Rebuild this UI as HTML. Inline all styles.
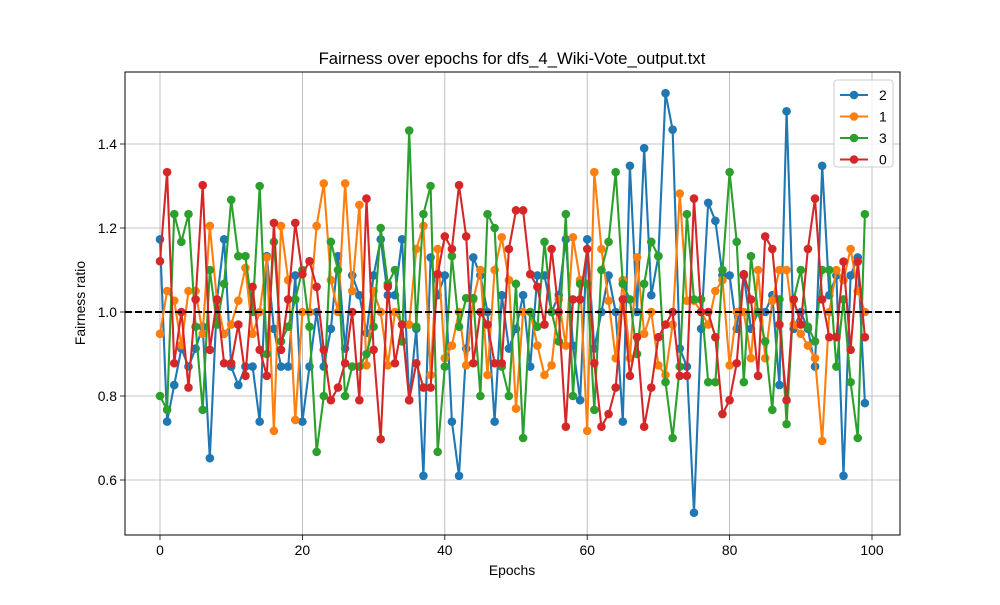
<!DOCTYPE html>
<html><head><meta charset="utf-8"><style>
body{margin:0;background:#fff;}
svg text{font-family:"Liberation Sans","DejaVu Sans",sans-serif;}
</style></head><body>
<svg id="chart" width="1000" height="600" xmlns="http://www.w3.org/2000/svg">
<rect width="1000" height="600" fill="#fff"/>
<g id="grid"></g>
<g id="marks"></g>
<rect x="125" y="72" width="775" height="463" fill="none" stroke="#000" stroke-width="1"/>
<g id="ticks"></g>
<text x="512" y="64" text-anchor="middle" font-size="16.7">Fairness over epochs for dfs_4_Wiki-Vote_output.txt</text>
<text x="512" y="575" text-anchor="middle" font-size="13.9">Epochs</text>
<text transform="translate(85,303) rotate(-90)" text-anchor="middle" font-size="13.9">Fairness ratio</text>
<g id="legend"></g>
</svg>
<script>
const s2 = [1.173,0.739,0.826,0.913,0.87,0.913,0.965,0.652,1.029,1.173,0.87,0.826,0.87,0.87,0.739,1.133,0.96,0.87,0.87,1.087,0.739,0.87,1.0,0.87,0.96,1.133,0.913,1.087,1.04,0.95,1.087,1.173,1.04,1.04,1.173,0.79,0.96,0.61,1.13,1.04,1.087,0.739,0.61,0.913,1.13,1.087,1.0,0.739,1.04,0.913,0.96,1.04,0.87,1.087,1.087,1.0,1.04,1.173,0.92,0.79,1.173,0.913,1.0,1.087,1.0,0.739,1.348,1.0,1.39,1.04,1.133,1.521,1.434,0.913,0.87,0.522,0.96,1.26,1.217,1.087,1.087,0.96,1.087,0.96,1.0,1.0,1.04,0.826,1.478,0.96,1.0,0.96,0.87,1.348,1.04,1.087,0.61,1.087,1.13,0.783];
const s1 = [0.948,1.05,1.027,0.921,1.05,1.05,0.948,1.205,1.027,0.948,0.97,1.027,1.105,0.948,1.0,1.13,0.717,1.205,1.076,0.743,1.0,1.0,1.205,1.306,1.076,1.0,1.306,1.05,1.255,0.873,1.05,1.0,0.873,1.0,0.97,0.97,1.15,1.205,0.85,1.15,0.89,0.92,1.0,0.873,1.03,1.1,0.85,1.1,1.178,1.076,0.77,1.0,1.0,0.92,0.85,0.873,1.03,0.92,1.178,1.076,0.717,1.333,1.15,1.027,0.89,1.076,0.89,1.13,0.948,1.0,0.873,0.85,0.97,1.282,1.027,1.027,1.0,0.97,1.05,1.076,0.873,1.0,1.0,0.89,1.1,0.89,1.027,1.1,1.1,0.97,0.948,0.92,0.89,0.693,1.0,1.1,1.076,1.15,1.05,1.0];
const s3 = [0.8,0.767,1.233,1.167,1.233,0.965,0.767,1.1,0.97,1.067,1.267,1.133,1.133,1.0,1.3,0.9,1.167,0.93,0.965,1.03,1.1,0.965,0.667,0.8,1.167,1.1,0.8,0.87,0.87,0.9,0.965,1.2,1.067,1.1,0.93,1.432,0.965,1.233,1.3,0.667,0.87,1.133,0.965,1.033,1.033,0.8,1.233,1.2,0.87,0.8,1.067,0.7,1.0,0.965,1.167,1.0,0.93,1.233,0.8,1.067,1.067,0.767,1.1,1.167,1.333,1.067,1.03,0.9,1.067,1.167,1.133,0.833,0.7,0.87,1.233,1.03,1.03,0.833,0.833,1.1,1.333,1.167,0.833,1.133,1.0,0.93,0.767,1.03,0.733,1.03,1.1,0.965,0.93,1.1,1.1,0.87,1.03,0.833,0.7,1.233];
const s0 = [1.121,1.333,0.878,1.0,0.82,1.03,1.302,0.91,1.03,0.878,0.878,0.97,0.848,1.06,0.91,0.848,1.212,0.91,1.03,1.212,1.09,1.121,1.06,0.91,0.79,0.82,0.878,1.0,0.79,1.27,0.91,0.697,1.06,0.878,0.97,0.79,0.878,0.82,0.82,1.09,1.18,1.15,1.302,1.18,0.878,1.0,0.97,0.878,0.878,1.15,1.242,1.242,1.09,1.06,0.97,1.15,1.0,0.727,1.03,1.03,1.15,0.878,0.727,0.757,0.82,1.03,0.848,0.94,0.727,0.82,0.94,0.97,1.0,0.848,0.848,1.27,1.0,1.0,0.94,0.757,0.79,0.878,1.09,1.03,0.848,1.18,1.15,0.97,0.79,1.03,0.97,1.15,1.27,1.03,0.94,0.94,1.12,0.91,1.12,0.94];
const seriesNames = ["2","1","3","0"];
const xTicks = [0,20,40,60,80,100];
const yTicks = [0.6,0.8,1.0,1.2,1.4];

const NS = "http://www.w3.org/2000/svg";
const X = v => 160 + v * 7.12;
const Y = v => 312 - (v - 1) * 420;
function mk(tag, attrs, parent){const e=document.createElementNS(NS,tag);for(const k in attrs)e.setAttribute(k,attrs[k]);parent.appendChild(e);return e;}
const grid=document.getElementById('grid'), ticks=document.getElementById('ticks'), marks=document.getElementById('marks'), legend=document.getElementById('legend');
xTicks.forEach(t=>{
  const g=mk('line',{x1:X(t),x2:X(t),y1:72,y2:535,stroke:'#b0b0b0','stroke-width':0.8},grid);
  
  
  mk('line',{x1:X(t),x2:X(t),y1:535,y2:540,stroke:'#000','stroke-width':0.8},ticks);
  const tx=mk('text',{x:X(t),y:555,'text-anchor':'middle','font-size':13.9},ticks);
  tx.textContent=t;
  
  
});
yTicks.forEach(t=>{
  const g=mk('line',{x1:125,x2:900,y1:Y(t),y2:Y(t),stroke:'#b0b0b0','stroke-width':0.8},grid);
  
  
  mk('line',{x1:120,x2:125,y1:Y(t),y2:Y(t),stroke:'#000','stroke-width':0.8},ticks);
  const tx=mk('text',{x:117,y:Y(t)+5,'text-anchor':'end','font-size':13.9},ticks);
  tx.textContent=t.toFixed(1);
  
  
});
const colors=['#1f77b4','#ff7f0e','#2ca02c','#d62728'];
[s2,s1,s3,s0].forEach((s,k)=>{
  const g=mk('g',{},marks);
  
  
  const pts=s.map((v,i)=>X(i).toFixed(1)+','+Y(v).toFixed(1)).join(' ');
  const pl=mk('polyline',{points:pts,fill:'none',stroke:colors[k],'stroke-width':2.1,'stroke-linejoin':'round'},g);
  
  
  s.forEach((v,i)=>{
    const c=mk('circle',{cx:X(i),cy:Y(v),r:4.3,fill:colors[k]},g);
    
    
  });
});
const ref=mk('line',{x1:125,x2:900,y1:Y(1),y2:Y(1),stroke:'#000','stroke-width':2,'stroke-dasharray':'7,3'},marks);


mk('rect',{x:834,y:80,width:59,height:87,rx:3,fill:'#fff','fill-opacity':0.8,stroke:'#ccc','stroke-width':1},legend);
seriesNames.forEach((n,k)=>{
  const y=95+k*21.5;
  const e=mk('g',{},legend);
  
  
  mk('line',{x1:840,x2:868,y1:y,y2:y,stroke:colors[k],'stroke-width':2.1},e);
  mk('circle',{cx:854,cy:y,r:4.3,fill:colors[k]},e);
  const t=mk('text',{x:879,y:y+5,'font-size':13.9},e);
  t.textContent=n;
});
</script>
</body></html>
